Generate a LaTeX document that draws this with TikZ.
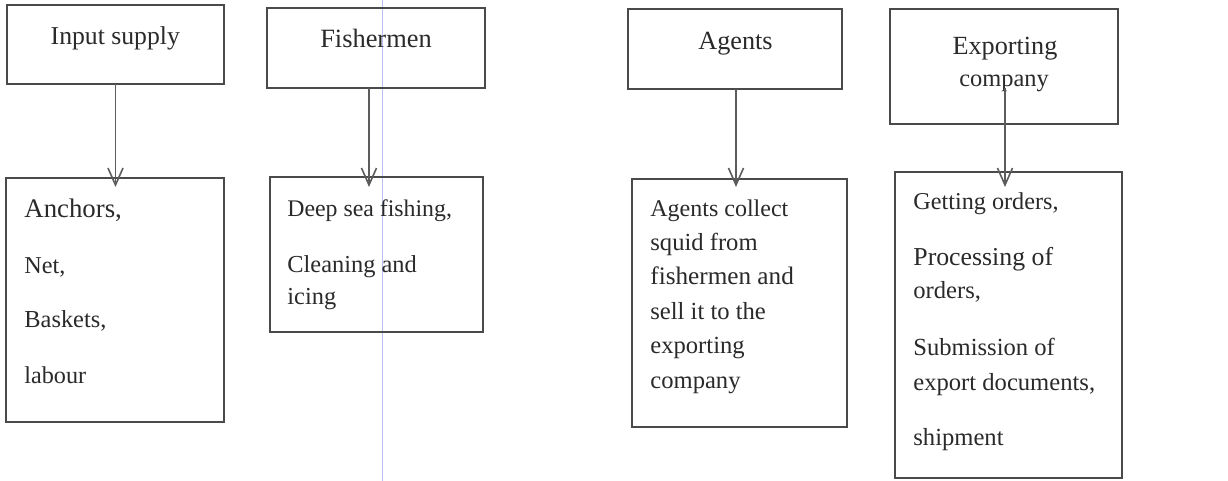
\documentclass[tikz,border=0pt]{standalone}
\usepackage{fontspec}
\setmainfont{Liberation Serif}
\usetikzlibrary{arrows.meta,calc}
\newcommand\pxsize[1]{\fontsize{#1}{#1}\selectfont}
\definecolor{ink}{HTML}{2A2A2A}
\definecolor{rule}{HTML}{4A4A4A}
\definecolor{margin}{HTML}{B8C0F2}
\begin{document}
\begin{tikzpicture}[x=0.5pt,y=-0.5pt,
  box/.style={draw=rule,line width=1pt,inner sep=0pt,outer sep=0pt,rectangle},
  txt/.style={anchor=base west,inner sep=0pt,text=ink},
  ctxt/.style={anchor=base,inner sep=0pt,text=ink},
  arr/.style={draw=rule!90,line width=0.9pt,-{Straight Barb[length=8.5pt,width=7.5pt,line width=0.8pt]}}]
\useasboundingbox (0,0) rectangle (1228,481);
\fill[white] (0,0) rectangle (1228,481);
% faint vertical margin line
\draw[margin,line width=0.5pt] (382,0) -- (382,481);

% top row of actors
\node[box,minimum width=108.5pt,minimum height=39.5pt] (in)  at (115.5,44.5) {};
\node[box,minimum width=109pt,minimum height=40pt]     (fis) at (376,48) {};
\node[box,minimum width=107pt,minimum height=40pt]     (agt) at (735,49) {};
\node[box,minimum width=114pt,minimum height=57.5pt]   (exp) at (1004,66.5) {};

\node[ctxt,font=\pxsize{12.85pt}] (inT)  at (115.3,45) {Input supply};
\node[ctxt,font=\pxsize{13.2pt}]  (fisT) at (376,48) {Fishermen};
\node[ctxt,font=\pxsize{13.1pt}]  (agtT) at (735.5,50) {Agents};
\node[ctxt,font=\pxsize{13.1pt}]  (expT1) at (1005,55) {Exporting};
\node[ctxt,font=\pxsize{12.2pt}]  (expT2) at (1004,87) {company};

% bottom row of activities
\node[box,minimum width=109pt,minimum height=122pt]   (b1) at (115,300) {};
\node[box,minimum width=106.5pt,minimum height=77.5pt](b2) at (376.5,254.5) {};
\node[box,minimum width=107.5pt,minimum height=124pt] (b3) at (739.5,303) {};
\node[box,minimum width=113.5pt,minimum height=153pt] (b4) at (1008.5,325) {};

\node[txt,font=\pxsize{13.4pt}] (b1a) at (24,218) {Anchors,};
\node[txt,font=\pxsize{12.1pt}] (b1b) at (24,273) {Net,};
\node[txt,font=\pxsize{12.2pt}] (b1c) at (24,328) {Baskets,};
\node[txt,font=\pxsize{12.1pt}] (b1d) at (24,383) {labour};

\node[txt,font=\pxsize{11.9pt}] (b2a) at (287,217) {Deep sea fishing,};
\node[txt,font=\pxsize{12.2pt}] (b2b) at (287,272) {Cleaning and};
\node[txt,font=\pxsize{12.2pt}] (b2c) at (287,305) {icing};

\node[txt,font=\pxsize{12pt}]   (b3a) at (650,217) {Agents collect};
\node[txt,font=\pxsize{12.3pt}] (b3b) at (650,250) {squid from};
\node[txt,font=\pxsize{12.6pt}] (b3c) at (650,285) {fishermen and};
\node[txt,font=\pxsize{12.3pt}] (b3d) at (650,320) {sell it to the};
\node[txt,font=\pxsize{12.3pt}] (b3e) at (650,353) {exporting};
\node[txt,font=\pxsize{12.3pt}] (b3f) at (650,388) {company};

\node[txt,font=\pxsize{12.1pt}] (b4a) at (913,210) {Getting orders,};
\node[txt,font=\pxsize{12.9pt}] (b4b) at (913,265) {Processing of};
\node[txt,font=\pxsize{12.3pt}] (b4c) at (913,299) {orders,};
\node[txt,font=\pxsize{12.3pt}] (b4d) at (913,355) {Submission of};
\node[txt,font=\pxsize{12.3pt}] (b4e) at (913,390) {export documents,};
\node[txt,font=\pxsize{12.3pt}] (b4f) at (913,445) {shipment};

% connectors
\draw[arr] (in.south) -- ($(b1.north)+(0.5,9)$);
\draw[arr] ($(fis.south)+(-7,0)$) -- ($(b2.north)+(-7.5,10)$);
\draw[arr] ($(agt.south)+(1,0)$) -- ($(b3.north)+(-3.5,8)$);
\draw[arr] ($(exp.south)+(1,-36)$) -- ($(b4.north)+(-3.5,15)$);
\end{tikzpicture}
\end{document}
